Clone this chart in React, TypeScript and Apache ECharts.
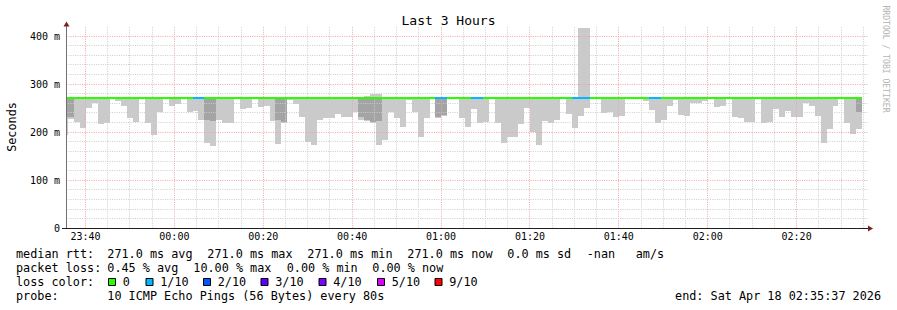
import React, { useEffect, useRef } from 'react';
import * as echarts from 'echarts';

// ---- time axis: minutes since 23:00 ----
const X_MIN = 35 + 37 / 60; // 23:35:37
const X_MAX = X_MIN + 180; // 02:35:37
const FIRST_STEP = 34.75; // start of first 80 s step shown
const STEP = 80 / 60;
const Y_MAX = 420;
const MEDIAN = 271; // median rtt (ms), constant: avg = max = min = 271.0

// ---- data per 80 s step (ms) ----
const smokeLow = [
  195, 228, 222, 208, 251, 260, 216, 220, 271, 265, 255, 229, 222, 268, 220, 195, 242, 271, 255, 258,
  271, 241, 244, 225, 177, 172, 225, 220, 220, 271, 249, 251, 271, 253, 255, 223, 175, 220, 267, 258,
  231, 180, 173, 225, 230, 229, 237, 232, 231, 241, 226, 223, 219, 174, 183, 241, 230, 211, 267, 241,
  189, 229, 271, 230, 234, 271, 271, 229, 211, 249, 220, 222, 271, 220, 177, 190, 190, 218, 251, 201,
  174, 224, 220, 226, 271, 237, 208, 233, 251, 271, 271, 239, 242, 232, 234, 271, 271, 271, 265, 246,
  220, 226, 255, 266, 235, 233, 260, 261, 265, 271, 253, 255, 271, 231, 229, 222, 222, 271, 220, 222,
  249, 231, 244, 232, 232, 260, 255, 234, 177, 206, 255, 271, 220, 197, 207,
];
const smokeHigh = [
  271, 271, 271, 271, 271, 271, 271, 271, 271, 271, 271, 271, 271, 271, 271, 271, 271, 271, 271, 271,
  271, 271, 271, 271, 271, 271, 271, 271, 271, 271, 271, 271, 271, 271, 271, 271, 271, 271, 271, 271,
  271, 271, 271, 271, 271, 271, 271, 271, 271, 271, 271, 276, 279, 279, 271, 271, 271, 271, 271, 271,
  271, 271, 271, 271, 271, 271, 271, 271, 271, 271, 271, 271, 271, 271, 271, 271, 271, 271, 271, 271,
  271, 271, 271, 271, 271, 271, 271, 416, 416, 271, 271, 271, 271, 271, 271, 271, 271, 271, 271, 271,
  271, 271, 271, 271, 271, 271, 271, 271, 271, 271, 271, 271, 271, 271, 271, 271, 271, 271, 271, 271,
  271, 271, 271, 271, 271, 271, 271, 271, 271, 271, 271, 271, 271, 271, 271,
];
// second-lowest ping (inner smoke band), null where it equals the median
const darkLow: (number | null)[] = [
  231, 231, null, null, null, null, null, null, null, null, null, null, null, null, null, null, null, null, null, null,
  null, null, null, null, 226, 224, null, null, null, null, null, null, null, null, null, null, 226, 222, null, null,
  null, null, null, null, null, null, null, null, null, null, 231, 225, 221, 224, null, null, null, null, null, null,
  null, null, null, 231, 235, null, null, null, null, null, null, null, null, null, null, null, null, null, null, null,
  null, null, null, null, null, null, null, null, null, null, null, null, null, null, null, null, null, null, null, null,
  null, null, null, null, null, null, null, null, null, null, null, null, null, null, null, null, null, null, null, null,
  null, null, null, null, null, null, null, null, null, null, null, null, null, null, 241,
];
// loss level per step (index into LOSS_COLORS)
const lossStep = [
  0, 0, 0, 0, 0, 0, 0, 0, 0, 0, 0, 0, 0, 0, 0, 0, 0, 0, 0, 0,
  0, 0, 1, 1, 0, 0, 0, 0, 0, 0, 0, 0, 0, 0, 0, 0, 0, 0, 0, 0,
  0, 0, 0, 0, 0, 0, 0, 0, 0, 0, 0, 0, 0, 0, 0, 0, 0, 0, 0, 0,
  0, 0, 0, 1, 1, 0, 0, 0, 0, 1, 1, 0, 0, 0, 0, 0, 0, 0, 0, 0,
  0, 0, 0, 0, 0, 0, 1, 1, 1, 0, 0, 0, 0, 0, 0, 0, 0, 0, 0, 1,
  1, 0, 0, 0, 0, 0, 0, 0, 0, 0, 0, 0, 0, 0, 0, 0, 0, 0, 0, 0,
  0, 0, 0, 0, 0, 0, 0, 0, 0, 0, 0, 0, 0, 0, 0,
];

const LOSS_LABELS = ['0', '1/10', '2/10', '3/10', '4/10', '5/10', '9/10'];
const LOSS_COLORS = ['#26ff00', '#00b8ff', '#0059ff', '#5e00ff', '#7e00ff', '#dd00ff', '#ff0000'];

const X_MAJOR = [40, 60, 80, 100, 120, 140, 160, 180, 200];
const Y_MAJOR = [100, 200, 300, 400];

const LEGEND_LINES: { x: number; text: string }[][] = [
  [
    { x: 16, text: 'median rtt:' },
    { x: 107.3, text: '271.0 ms avg' },
    { x: 207.3, text: '271.0 ms max' },
    { x: 307.3, text: '271.0 ms min' },
    { x: 407.3, text: '271.0 ms now' },
    { x: 507.3, text: '0.0 ms sd' },
    { x: 586.7, text: '-nan' },
    { x: 635.7, text: 'am/s' },
  ],
  [
    { x: 16, text: 'packet loss:' },
    { x: 107.3, text: '0.45 % avg' },
    { x: 193.3, text: '10.00 % max' },
    { x: 286.7, text: '0.00 % min' },
    { x: 372.3, text: '0.00 % now' },
  ],
  [{ x: 16, text: 'loss color:' }],
  [
    { x: 16, text: 'probe:' },
    { x: 107.3, text: '10 ICMP Echo Pings (56 Bytes) every 80s' },
  ],
];
const LEGEND_Y = [254.3, 268.3, 282.3, 296];
const LOSS_BOX_X = [108, 145.5, 203, 260.5, 318.5, 377, 434.5];

const MONO = "'DejaVu Sans Mono', monospace";
const SMOKE_LIGHT = '#cacaca';
const SMOKE_DARK = '#a4a4a4';

const stepStart = (i: number) => FIRST_STEP + i * STEP;

function fmtTime(v: number) {
  const r = Math.round(v);
  if (Math.abs(v - r) > 1e-6 || r % 20 !== 0) return '';
  const h = (23 + Math.floor(r / 60)) % 24;
  const m = ((r % 60) + 60) % 60;
  return `${String(h).padStart(2, '0')}:${String(m).padStart(2, '0')}`;
}

export default function App() {
  const ref = useRef<HTMLDivElement>(null);
  useEffect(() => {
    if (!ref.current) return;
    const chart = echarts.init(ref.current, undefined, { renderer: 'svg' });

    const smokeData = smokeLow.map((lo, i) => [
      stepStart(i),
      stepStart(i + 1),
      lo,
      smokeHigh[i],
      darkLow[i] == null ? lo : (darkLow[i] as number),
      darkLow[i] == null ? 0 : 1,
    ]);
    const medianData = lossStep.map((l, i) => [stepStart(i), stepStart(i + 1), MEDIAN, l]);

    const gridData: number[][] = [];
    for (let t = Math.ceil(X_MIN / 5) * 5; t < X_MAX; t += 5) {
      gridData.push([t, 0, 0, X_MAJOR.includes(t) ? 1 : 0]);
    }
    for (let v = 20; v < Y_MAX; v += 20) {
      gridData.push([X_MIN, v, 1, Y_MAJOR.includes(v) ? 1 : 0]);
    }
    gridData.sort((a, b) => a[3] - b[3]);

    const graphic: any[] = [
      {
        type: 'text',
        x: 448.5,
        y: 20,
        style: { text: 'Last 3 Hours', font: `13px ${MONO}`, fill: '#000', align: 'center', verticalAlign: 'middle', textAlign: 'center', textVerticalAlign: 'middle' },
      },
      {
        type: 'text',
        x: 11.5,
        y: 127,
        rotation: Math.PI / 2,
        style: { text: 'Seconds', font: `11.8px ${MONO}`, fill: '#000', align: 'center', verticalAlign: 'middle', textAlign: 'center', textVerticalAlign: 'middle' },
      },
      {
        type: 'text',
        x: 886,
        y: 59,
        rotation: -Math.PI / 2,
        style: { text: 'RRDTOOL / TOBI OETIKER', font: `8.1px ${MONO}`, fill: '#b4b4b4', align: 'center', verticalAlign: 'middle', textAlign: 'center', textVerticalAlign: 'middle' },
      },
      // axes
      { type: 'line', z: 20, shape: { x1: 66.5, y1: 228.5, x2: 66.5, y2: 26 }, style: { stroke: '#707070', lineWidth: 1 } },
      { type: 'line', z: 20, shape: { x1: 62, y1: 228.5, x2: 868, y2: 228.5 }, style: { stroke: '#1f1f1f', lineWidth: 1 } },
      { type: 'polygon', z: 21, shape: { points: [[63.5, 26.5], [69.5, 26.5], [66.5, 21.5]] }, style: { fill: '#801f1f' } },
      { type: 'polygon', z: 21, shape: { points: [[868, 225.5], [868, 231.5], [873, 228.5]] }, style: { fill: '#801f1f' } },
      {
        type: 'text',
        x: 881,
        y: LEGEND_Y[3],
        style: { text: 'end: Sat Apr 18 02:35:37 2026', font: `11.8px ${MONO}`, fill: '#000', align: 'right', verticalAlign: 'middle', textAlign: 'right', textVerticalAlign: 'middle' },
      },
    ];
    LEGEND_LINES.forEach((line, li) => {
      line.forEach((seg) => {
        graphic.push({
          type: 'text',
          x: seg.x,
          y: LEGEND_Y[li],
          style: { text: seg.text, font: `11.8px ${MONO}`, fill: '#000', align: 'left', verticalAlign: 'middle', textAlign: 'left', textVerticalAlign: 'middle' },
        });
      });
    });
    LOSS_LABELS.forEach((lab, i) => {
      graphic.push({
        type: 'rect',
        shape: { x: LOSS_BOX_X[i] + 0.5, y: 278.5, width: 7, height: 7 },
        style: { fill: LOSS_COLORS[i], stroke: '#000', lineWidth: 1 },
      });
      graphic.push({
        type: 'text',
        x: LOSS_BOX_X[i] + 14.7,
        y: LEGEND_Y[2],
        style: { text: lab, font: `11.8px ${MONO}`, fill: '#000', align: 'left', verticalAlign: 'middle', textAlign: 'left', textVerticalAlign: 'middle' },
      });
    });

    const option: any = {
      animation: false,
      backgroundColor: '#ffffff',
      grid: { left: 66, top: 26.4, width: 800, height: 201.9 },
      xAxis: {
        type: 'value',
        min: X_MIN,
        max: X_MAX,
        splitNumber: 9,
        minInterval: 20,
        maxInterval: 20,
        axisLine: { show: false },
        axisTick: { show: false },
        splitLine: { show: false },
        axisLabel: {
          margin: 3,
          color: '#000',
          fontFamily: MONO,
          fontSize: 10,
          showMinLabel: false,
          showMaxLabel: false,
          formatter: fmtTime,
        },
      },
      yAxis: {
        type: 'value',
        min: 0,
        max: Y_MAX,
        interval: 100,
        axisLine: { show: false },
        axisTick: { show: false },
        splitLine: { show: false },
        axisLabel: {
          margin: 6,
          color: '#000',
          fontFamily: MONO,
          fontSize: 10,
          showMaxLabel: false,
          formatter: (v: number) => (v === 0 ? '0' : v % 100 === 0 ? `${v} m` : ''),
        },
      },
      series: [
        {
          type: 'custom',
          name: 'smoke',
          z: 2,
          clip: true,
          encode: { x: [0, 1], y: [2, 3] },
          data: smokeData,
          renderItem: (params: any, api: any) => {
            const x0 = Math.round(api.coord([api.value(0), 0])[0]);
            const x1 = Math.round(api.coord([api.value(1), 0])[0]);
            const yLo = Math.round(api.coord([X_MIN, api.value(2)])[1]);
            const yHi = Math.round(api.coord([X_MIN, api.value(3)])[1]);
            const children: any[] = [];
            if (yLo > yHi) {
              children.push({ type: 'rect', shape: { x: x0, y: yHi, width: x1 - x0, height: yLo - yHi }, style: { fill: SMOKE_LIGHT } });
            }
            if (api.value(5) === 1) {
              const yD = Math.round(api.coord([X_MIN, api.value(4)])[1]);
              const yT = Math.round(api.coord([X_MIN, MEDIAN])[1]);
              children.push({ type: 'rect', shape: { x: x0, y: yT, width: x1 - x0, height: yD - yT }, style: { fill: SMOKE_DARK } });
            }
            return { type: 'group', children };
          },
        },
        {
          type: 'custom',
          name: 'grid',
          z: 3,
          silent: true,
          encode: { x: 0, y: 1 },
          data: gridData,
          renderItem: (params: any, api: any) => {
            const kind = api.value(2);
            const major = api.value(3) === 1;
            const stroke = major ? '#f0a6a6' : '#cdcdcd';
            if (kind === 0) {
              const x = Math.floor(api.coord([api.value(0), 0])[0]) + 0.5;
              const yb = api.coord([X_MIN, 0])[1];
              const yt = api.coord([X_MIN, Y_MAX])[1];
              return { type: 'line', shape: { x1: x, y1: yb, x2: x, y2: yt }, style: { stroke, lineWidth: 1, lineDash: [1, 1.3] } };
            }
            const y = Math.floor(api.coord([X_MIN, api.value(1)])[1]) + 0.5;
            const xl = api.coord([X_MIN, 0])[0];
            const xr = api.coord([X_MAX, 0])[0] + 2;
            return { type: 'line', shape: { x1: xl, y1: y, x2: xr, y2: y }, style: { stroke, lineWidth: 1, lineDash: [1, 1.3] } };
          },
        },
        {
          type: 'custom',
          name: 'median',
          z: 4,
          clip: true,
          encode: { x: [0, 1], y: 2 },
          data: medianData,
          renderItem: (params: any, api: any) => {
            const x0 = Math.round(api.coord([api.value(0), MEDIAN])[0]);
            const x1 = Math.round(api.coord([api.value(1), MEDIAN])[0]);
            const y = Math.round(api.coord([X_MIN, api.value(2)])[1]);
            return {
              type: 'rect',
              shape: { x: x0, y: y - 1, width: x1 - x0, height: 2 },
              style: { fill: LOSS_COLORS[api.value(3)] },
            };
          },
        },
      ],
      graphic,
    };
    chart.setOption(option);
    return () => chart.dispose();
  }, []);
  return <div ref={ref} style={{ position: 'absolute', left: 0, top: 0, width: 897, height: 310 }} />;
}
